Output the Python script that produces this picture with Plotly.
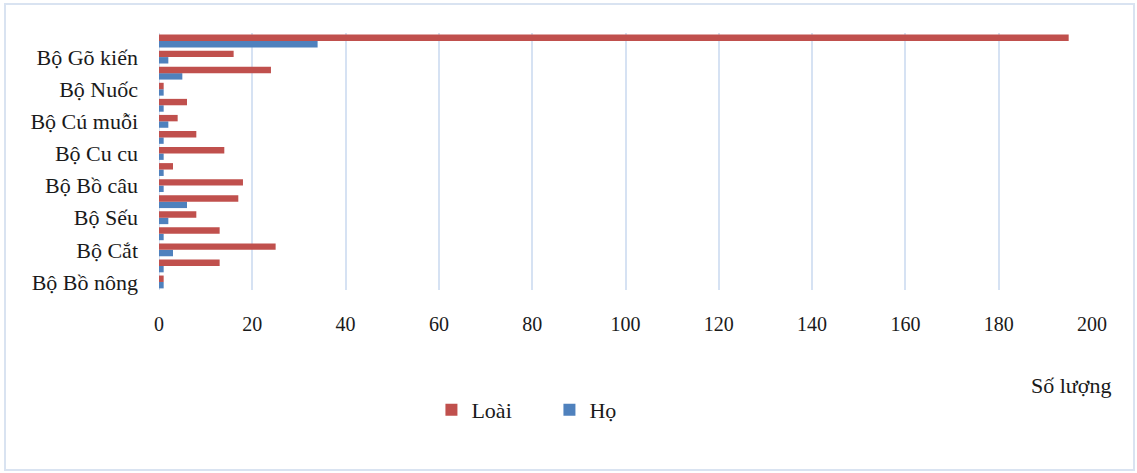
import plotly.graph_objects as go

categories = ["Bộ Bồ nông", "Bộ Hạc", "Bộ Cắt", "Bộ Gà", "Bộ Sếu", "Bộ Rẽ",
              "Bộ Bồ câu", "Bộ Vẹt", "Bộ Cu cu", "Bộ Cú", "Bộ Cú muỗi", "Bộ Yến",
              "Bộ Nuốc", "Bộ Sả", "Bộ Gõ kiến", "Bộ Sẻ"]
loai = [1, 13, 25, 13, 8, 17, 18, 3, 14, 8, 4, 6, 1, 24, 16, 195]
ho = [1, 1, 3, 1, 2, 6, 1, 1, 1, 1, 2, 1, 1, 5, 2, 34]
shown_labels = categories[::2]
x_ticks = [0, 20, 40, 60, 80, 100, 120, 140, 160, 180, 200]

FONT = "Liberation Serif"
GRID = "#D6E2F3"

fig = go.Figure()
fig.add_trace(go.Bar(y=categories, x=ho, orientation="h", name="Họ",
                     marker=dict(color="#4F81BD", line=dict(width=0)), legendrank=2))
fig.add_trace(go.Bar(y=categories, x=loai, orientation="h", name="Loài",
                     marker=dict(color="#C0504D", line=dict(width=0)), legendrank=1))

fig.update_layout(
    width=1137, height=473,
    margin=dict(l=159, r=45, t=33, b=183),
    paper_bgcolor="white", plot_bgcolor="white",
    barmode="group", bargap=0.2, bargroupgap=0,
    font=dict(family=FONT, size=21, color="#1a1a1a"),
    showlegend=True,
    legend=dict(orientation="h", x=0.292, y=-0.467, xanchor="left", yanchor="middle",
                font=dict(size=22), itemwidth=30, tracegroupgap=0,
                entrywidth=73, entrywidthmode="pixels",
                bgcolor="rgba(0,0,0,0)"),
    xaxis=dict(range=[0, 200], tickvals=x_ticks, showgrid=True, gridcolor=GRID, gridwidth=2,
               zeroline=False, showline=False, ticks="", ticklabelstandoff=20,
               tickfont=dict(size=20)),
    yaxis=dict(tickvals=shown_labels, showgrid=False, zeroline=False, showline=False,
               ticks="", ticklabelstandoff=20, tickfont=dict(size=22)),
)
fig.add_shape(type="line", xref="x", yref="paper", x0=0, x1=0, y0=0, y1=1,
              line=dict(color=GRID, width=2), layer="below")
fig.add_annotation(text="Số lượng", xref="paper", yref="paper", x=1.022, y=-0.37,
                   xanchor="right", yanchor="middle", showarrow=False, font=dict(size=22))
fig.add_shape(type="rect", xref="paper", yref="paper",
              x0=(5 - 159) / 933, x1=(1134 - 159) / 933,
              y0=(290 - 470) / 257, y1=(290 - 4) / 257,
              line=dict(color="#D9E3F1", width=2), layer="below")

fig.write_html("out.html")
